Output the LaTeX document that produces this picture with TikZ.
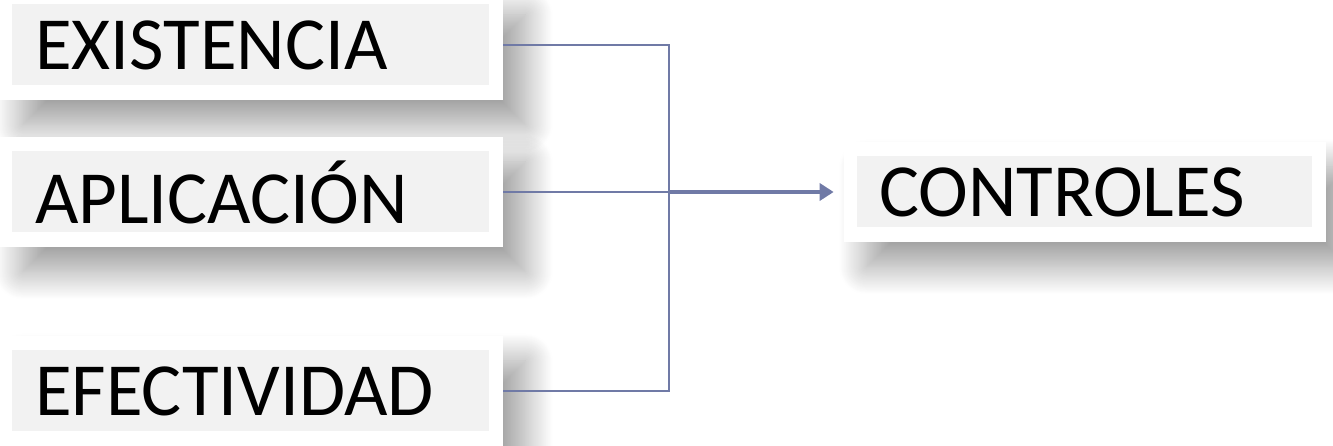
\documentclass[tikz,border=0pt]{standalone}
\usepackage{fontspec}
\setmainfont{Carlito}
\usetikzlibrary{positioning, arrows.meta, shadows.blur}

\definecolor{linkblue}{RGB}{112,122,166}

\begin{document}
\begin{tikzpicture}[
    % Stile per le caselle
    box/.style={rectangle, fill=white, minimum height=2.2cm, inner xsep=0.7cm, inner ysep=0pt,
        text width=#1, align=left, font=\fontsize{42.7}{50}\selectfont,
        blur shadow={shadow xshift=0.45cm, shadow yshift=-0.5cm, shadow blur radius=0.55cm,
            shadow opacity=38, shadow blur steps=30},
        path picture={\fill[black!5] ([shift={(0.25,0.3)}]path picture bounding box.south west)
            rectangle ([shift={(-0.28,-0.28)}]path picture bounding box.north east);}},
    % Stili per le connessioni
    link/.style={draw=linkblue, line width=1.4pt},
    arrowlink/.style={link, line width=2.2pt, -{Triangle[length=0.28cm, width=0.34cm]}, shorten >=0.2cm}
]
\useasboundingbox (0,0) rectangle (26.66,8.92);

% === CASELLE ===
\node[box=8.66cm] (exist) at (5.03,8.02) {EXISTENCIA};
\node[box=8.66cm] (aplic) at (5.03,5.08) {APLICACIÓN};
\node[box=8.66cm] (efect) at (5.03,1.10) {EFECTIVIDAD};
\node[box=8.24cm, minimum height=2.0cm] (ctrl) at (21.70,5.08) {CONTROLES};

% === CONNESSIONI ===
\coordinate (join) at (13.38,5.08);
\draw[link] (exist.east) -| (join) |- (efect.east);
\draw[link] (aplic.east) -- (join);
\draw[arrowlink] (join) -- (ctrl.west);

\end{tikzpicture}
\end{document}
